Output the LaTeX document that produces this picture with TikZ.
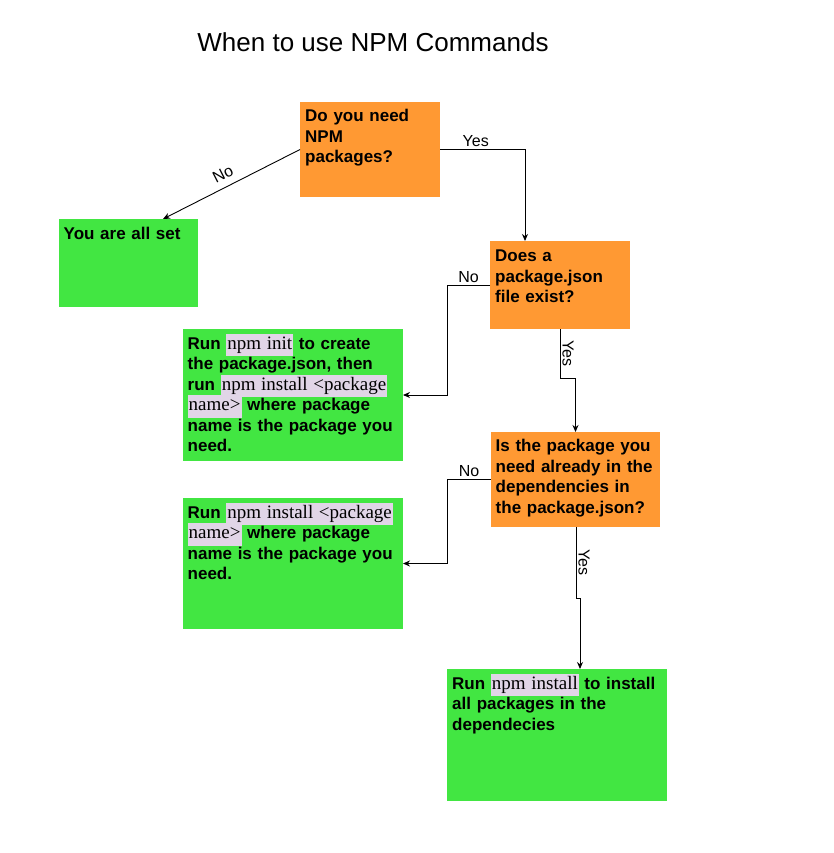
\documentclass[tikz,border=0pt]{standalone}
\usepackage{fontspec}
\setmainfont{Liberation Sans}
\newfontfamily\codefont{Liberation Serif}
\usetikzlibrary{arrows.meta,calc}
\definecolor{boxorange}{HTML}{FF9933}
\definecolor{boxgreen}{HTML}{42E642}
\definecolor{codebg}{HTML}{E1D5E7}
\newcommand\npmcode[1]{{\setlength{\fboxsep}{1pt}\colorbox{codebg}{\codefont\mdseries\fontsize{19}{20.5}\selectfont\strut #1}}}
\newcommand\boxtextfont{\fontsize{17}{20.5}\selectfont\bfseries\setlength{\lineskiplimit}{-30pt}}
\tikzset{
  obox/.style={fill=boxorange, draw=none, anchor=north west, inner sep=0pt, outer sep=0pt},
  gbox/.style={fill=boxgreen, draw=none, anchor=north west, inner sep=0pt, outer sep=0pt},
  boxtext/.style={anchor=base west, align=left, inner sep=0pt, text width=240pt,
    font=\boxtextfont},
  lbl/.style={font=\fontsize{16}{19}\selectfont, inner sep=2pt, text=black},
  arr/.style={-{Stealth[length=7pt,width=6pt]}, line width=0.9pt},
}
\begin{document}
\begin{tikzpicture}[x=1pt,y=-1pt]
\useasboundingbox (0,0) rectangle (833,853);
\node[font=\fontsize{26}{30}\selectfont, anchor=base] (title) at (373,52) {When to use NPM Commands};

\node[obox, minimum width=140pt, minimum height=95pt] (b1) at (300,102) {};
\node[boxtext] (t1) at ($(b1.north west)+(5,20)$) {Do you need\\NPM\\packages?};

\node[gbox, minimum width=139pt, minimum height=88pt] (allset) at (59,219) {};
\node[boxtext] (tall) at ($(allset.north west)+(4.5,20)$) {You are all set};

\node[obox, minimum width=140pt, minimum height=88pt] (b2) at (490,241) {};
\node[boxtext] (t2) at ($(b2.north west)+(5,20.5)$) {Does a\\package.json\\file exist?};

\node[gbox, minimum width=220pt, minimum height=132pt] (b3) at (183,329) {};
\node[boxtext] (t3) at ($(b3.north west)+(4.5,20)$) {Run \npmcode{npm init} to create\\the package.json, then\\run \npmcode{npm install <package}\\\npmcode{name>} where package\\name is the package you\\need.};

\node[obox, minimum width=169pt, minimum height=95pt] (b4) at (491,432) {};
\node[boxtext] (t4) at ($(b4.north west)+(4.5,19.5)$) {Is the package you\\need already in the\\dependencies in\\the package.json?};

\node[gbox, minimum width=220pt, minimum height=131pt] (b5) at (183,498) {};
\node[boxtext] (t5) at ($(b5.north west)+(4.5,20)$) {Run \npmcode{npm install <package}\\\npmcode{name>} where package\\name is the package you\\need.};

\node[gbox, minimum width=220pt, minimum height=132pt] (b6) at (447,669) {};
\node[boxtext] (t6) at ($(b6.north west)+(5,20)$) {Run \npmcode{npm install} to install\\all packages in the\\dependecies};

% connectors
\draw[arr] (b1.west) -- node[lbl, pos=0.52, sloped, above, inner sep=7pt] (lno1) {No} ($(allset.north)+(34.5,0)$);
\draw[arr] (b1.east) -| node[lbl, pos=0.21, above] (lyes1) {Yes} ($(b2.north)+(-35,0)$);
\draw[arr] (b2.west) -- node[lbl, midway, above] (lno2) {No} ++(-43,0) |- (b3.east);
\draw[arr] (b2.south) -- node[lbl, midway, rotate=-90, anchor=south] (lyes2) {Yes} ++(0,49) -| (b4.north);
\draw[arr] (b4.west) -- node[lbl, midway, above] (lno3) {No} ++(-44,0) |- (b5.east);
\draw[arr] ($(b4.south)+(0.5,0)$) -- node[lbl, midway, rotate=-90, anchor=south] (lyes3) {Yes} ++(0,71) -| ($(b6.north)+(23,0)$);
\end{tikzpicture}
\end{document}
